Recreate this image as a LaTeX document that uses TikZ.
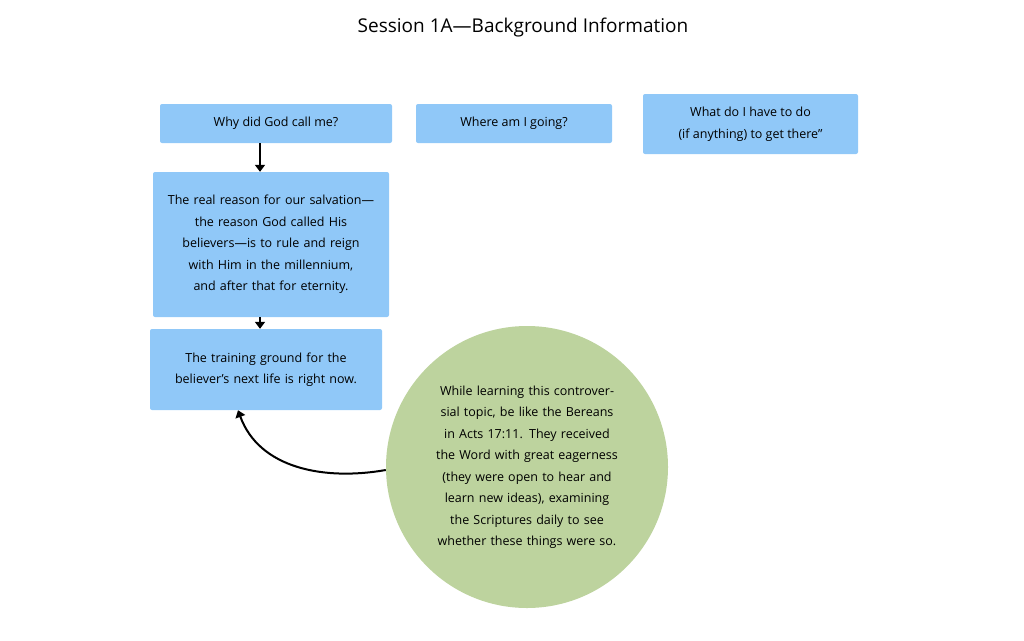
\documentclass[tikz,border=0pt]{standalone}
\usepackage{fontspec}
\setmainfont{Open Sans}
\usetikzlibrary{positioning,arrows.meta}
\definecolor{box_blue}{HTML}{90C8F8}
\definecolor{note_green}{HTML}{BDD39E}
\tikzset{infobox/.style={fill=box_blue, rounded corners=2pt, align=center, inner sep=0pt,
  font=\fontsize{12.5}{21.5}\selectfont}}
\tikzset{flow/.style={-{Triangle[length=7pt,width=10pt]}, line width=2pt}}

\begin{document}
\begin{tikzpicture}[x=1pt,y=-1pt]
\useasboundingbox (0,0) rectangle (1024,640);

% Title
\node (title) at (523,28) {\fontsize{19}{22}\selectfont Session 1A---Background Information};

% Top row of questions
\node[infobox, minimum width=232pt, minimum height=39pt] (why) at (276,123.5) {Why did God call me?};
\node[infobox, minimum width=196pt, minimum height=39pt] (where) at (514,123.5) {Where am I going?};
\node[infobox, minimum width=215pt, minimum height=60pt] (what) at (750.5,124) {What do I have to do\\(if anything) to get there"};

% Left column
\node[infobox, minimum width=236pt, minimum height=145pt, text width=215pt] (reason) at (271,244.5)
  {The real reason for our salvation---the reason God called His believers---is to rule and reign with Him in the millennium, and after that for eternity.};
\node[infobox, minimum width=232pt, minimum height=81pt, text width=205pt] (training) at (266,369.5)
  {The training ground for the believer's next life is right now.};

% Note circle
\node[circle, fill=note_green, minimum size=282pt, align=center, text width=185pt,
  font=\fontsize{12.5}{21.5}\selectfont] (bereans) at (527,467)
  {While learning this controversial topic, be like the Bereans in Acts 17:11. They received the Word with great eagerness (they were open to hear and learn new ideas), examining the Scriptures daily to see whether these things were so.};

% Arrows
\draw[flow] (why.south -| 260,0) -- (reason.north -| 260,0);
\draw[flow] (reason.south -| 260,0) -- (training.north -| 260,0);
\draw[flow] (bereans.west |- 0,470) to[out=190,in=-70] (training.south -| 238,0);

\end{tikzpicture}
\end{document}
